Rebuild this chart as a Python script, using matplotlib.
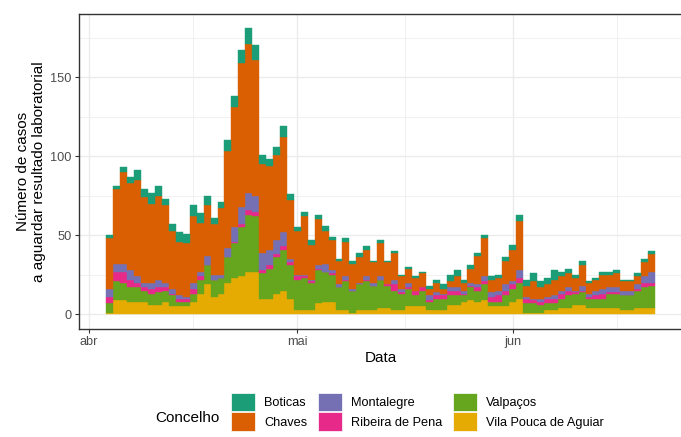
import numpy as np
import pandas as pd
import matplotlib
matplotlib.use('Agg')
import matplotlib.pyplot as plt
from matplotlib.patches import Patch

plt.rcParams['font.family'] = ['Liberation Sans', 'DejaVu Sans']

# daily counts, 4 abr -> 21 jun
datas = pd.date_range('2020-04-04', periods=79, freq='D')

concelhos = ['Boticas', 'Chaves', 'Montalegre', 'Ribeira de Pena',
             'Valpaços', 'Vila Pouca de Aguiar']
cores = ['#1B9E77', '#D95F02', '#7570B3', '#E7298A', '#66A61E', '#E6AB02']

vila_pouca = [1, 9, 9, 8, 8, 8, 6, 6, 8, 5, 5, 5, 8, 13, 19, 11, 13, 20, 23, 24,
              27, 27, 10, 10, 13, 15, 10, 3, 3, 3, 7, 8, 8, 3, 3, 1, 3, 3, 3, 4,
              4, 3, 3, 5, 5, 5, 3, 3, 3, 6, 6, 8, 9, 8, 9, 5, 5, 5, 8, 10,
              1, 1, 1, 3, 3, 4, 4, 6, 6, 4, 4, 4, 4, 4, 3, 3, 4, 4, 4]
valpacos = [6, 12, 11, 9, 9, 7, 7, 8, 7, 7, 3, 3, 5, 9, 12, 11, 10, 16, 22, 31,
            36, 35, 16, 19, 23, 26, 21, 19, 20, 17, 21, 19, 17, 14, 18, 14, 16, 18, 15, 18,
            14, 12, 10, 11, 7, 10, 5, 7, 7, 6, 6, 4, 8, 7, 10, 3, 3, 7, 8, 10,
            6, 6, 5, 4, 4, 6, 8, 7, 8, 6, 6, 6, 9, 9, 9, 9, 11, 13, 14]
ribeira = [4, 6, 7, 5, 3, 2, 3, 3, 2, 1, 2, 2, 3, 2, 0, 0, 0, 0, 1, 2,
           3, 3, 2, 2, 2, 2, 2, 2, 1, 1, 1, 0, 1, 0, 1, 0, 0, 1, 0, 0,
           1, 4, 1, 1, 3, 2, 1, 2, 2, 3, 3, 1, 1, 2, 2, 3, 4, 3, 3, 3,
           3, 2, 2, 3, 3, 3, 3, 1, 1, 1, 2, 3, 1, 1, 0, 0, 1, 3, 2]
montalegre = [5, 5, 5, 6, 4, 3, 4, 5, 3, 3, 2, 1, 4, 3, 6, 3, 2, 6, 9, 11,
              11, 10, 11, 10, 9, 9, 2, 1, 1, 1, 2, 5, 2, 2, 2, 1, 1, 2, 2, 2,
              0, 3, 2, 3, 0, 0, 3, 2, 1, 2, 2, 2, 2, 2, 3, 3, 3, 4, 2, 5,
              1, 1, 2, 1, 2, 2, 2, 1, 3, 2, 3, 3, 3, 3, 3, 3, 3, 4, 7]
chaves = [32, 47, 58, 55, 61, 54, 50, 53, 49, 37, 34, 34, 42, 31, 32, 32, 42, 61, 76, 91,
          94, 86, 56, 53, 54, 60, 37, 28, 37, 22, 29, 21, 19, 15, 22, 16, 16, 17, 13, 21,
          14, 17, 8, 9, 8, 9, 4, 6, 3, 4, 7, 5, 9, 18, 24, 8, 8, 15, 20, 31,
          7, 11, 7, 8, 10, 9, 9, 8, 13, 7, 7, 9, 8, 9, 6, 6, 5, 9, 11]
boticas = [2, 2, 3, 4, 6, 5, 7, 6, 4, 4, 6, 6, 7, 6, 6, 4, 4, 7, 7, 8,
           10, 9, 6, 4, 5, 7, 4, 2, 3, 3, 3, 3, 2, 1, 2, 2, 3, 2, 1, 2,
           1, 1, 1, 1, 1, 1, 2, 2, 3, 4, 4, 2, 2, 2, 2, 2, 2, 2, 3, 4,
           4, 5, 4, 4, 6, 3, 3, 2, 3, 1, 1, 2, 2, 2, 1, 1, 2, 2, 2]

series = dict(zip(concelhos, [boticas, chaves, montalegre, ribeira, valpacos, vila_pouca]))
cor = dict(zip(concelhos, cores))

fig = plt.figure(figsize=(6.81, 4.37), dpi=100)
ax = fig.add_axes([0.116, 0.2478, 0.886, 0.7208])

# stack bottom-up, last concelho at the bottom
base = np.zeros(len(datas))
for c in reversed(concelhos):
    v = np.array(series[c], dtype=float)
    ax.bar(datas, v, bottom=base, width=1.0, color=cor[c], linewidth=0.3,
           edgecolor=cor[c], zorder=2)
    base += v

total_max = base.max()
ax.set_ylim(-0.05 * total_max, 1.05 * total_max)
x0 = datas[0] - pd.Timedelta(hours=12)
x1 = datas[-1] + pd.Timedelta(hours=12)
span = x1 - x0
ax.set_xlim(x0 - 0.05 * span, x1 + 0.05 * span)

meses = pd.to_datetime(['2020-04-01', '2020-05-01', '2020-06-01'])
ax.set_xticks(meses)
ax.set_xticklabels(['abr', 'mai', 'jun'])
menores = [pd.Timestamp('2020-04-16'), pd.Timestamp('2020-05-16 12:00'),
           pd.Timestamp('2020-06-16')]
ax.set_xticks(menores, minor=True)
ax.set_yticks([0, 50, 100, 150])
ax.set_yticks([25, 75, 125, 175], minor=True)

ax.grid(which='major', color='#EBEBEB', linewidth=1.0, zorder=0)
ax.grid(which='minor', color='#EBEBEB', linewidth=0.5, zorder=0)
ax.set_axisbelow(True)

for s in ax.spines.values():
    s.set_color('#333333')
    s.set_linewidth(1.0)
ax.tick_params(which='major', length=3, width=0.8, color='#333333',
               labelsize=9.2, labelcolor='#4D4D4D', pad=2.2)
ax.tick_params(which='minor', length=0)

ax.set_xlabel('Data', fontsize=11, labelpad=2.5)
ax.set_ylabel('Número de casos\na aguardar resultado laboratorial', fontsize=11,
              labelpad=3, linespacing=1.2)

handles = [Patch(facecolor=cor[c], edgecolor='white', linewidth=0.5) for c in concelhos]
fig.legend(handles, concelhos, ncol=3, loc='upper left',
           bbox_to_anchor=(231 / 681, 1 - 392.5 / 437), frameon=False,
           fontsize=9.2, handlelength=1.88, handleheight=1.88,
           handletextpad=0.7, columnspacing=0.85, labelspacing=0.08,
           borderpad=0, borderaxespad=0)
fig.text(155 / 681, 1 - 417.5 / 437, 'Concelho', fontsize=11, va='center', ha='left')

fig.savefig('out.png', dpi=100)
